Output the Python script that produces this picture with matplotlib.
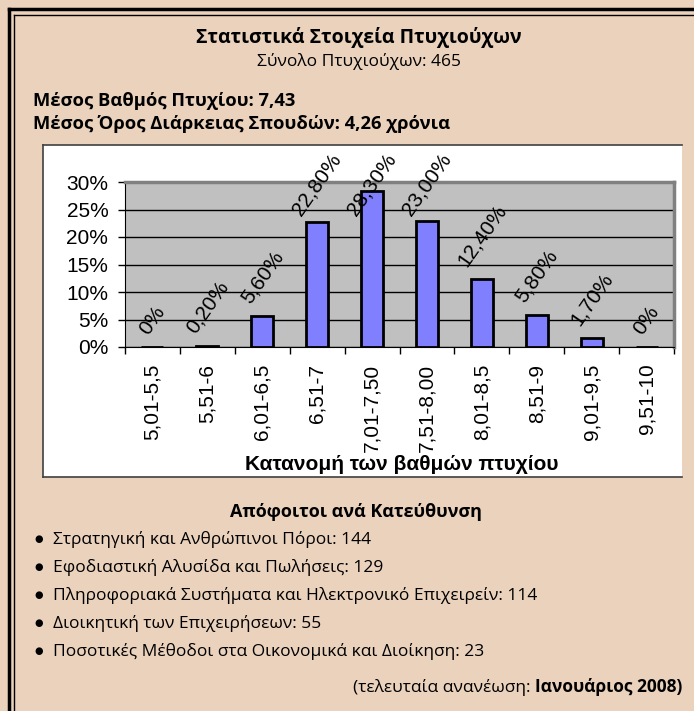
import numpy as np
import matplotlib.pyplot as plt
from matplotlib.patches import Rectangle
from matplotlib.lines import Line2D

W, H = 694, 711
DPI = 100

# στοιχεία
categories = ['5,01-5,5', '5,51-6', '6,01-6,5', '6,51-7', '7,01-7,50',
              '7,51-8,00', '8,01-8,5', '8,51-9', '9,01-9,5', '9,51-10']
percent = [0, 0.2, 5.6, 22.8, 28.3, 23.0, 12.4, 5.8, 1.7, 0]
y_ticks = [0, 5, 10, 15, 20, 25, 30]

directions = ['Στρατηγική και Ανθρώπινοι Πόροι',
              'Εφοδιαστική Αλυσίδα και Πωλήσεις',
              'Πληροφοριακά Συστήματα και Ηλεκτρονικό Επιχειρείν',
              'Διοικητική των Επιχειρήσεων',
              'Ποσοτικές Μέθοδοι στα Οικονομικά και Διοίκηση']
graduates = [144, 129, 114, 55, 23]

total_graduates = 465
mean_grade = '7,43'
mean_years = '4,26'

BEIGE = '#EAD2BC'
PAGE_FONT = ['Open Sans', 'DejaVu Sans']
CHART_FONT = ['Liberation Sans', 'DejaVu Sans']
PAGE_SIZE = 12.5


def fx(x):
    return x / W


def fy(y):
    return 1 - y / H


def fmt_pct(v):
    if v == 0:
        return '0%'
    return f'{v:.2f}'.replace('.', ',') + '%'


fig = plt.figure(figsize=(W / DPI, H / DPI), dpi=DPI)
fig.patch.set_facecolor(BEIGE)

# διπλό περίγραμμα (αριστερά και πάνω)
fig.add_artist(Line2D([fx(9), fx(9)], [fy(9), 0], color='black', lw=2.5))
fig.add_artist(Line2D([fx(9), 1], [fy(9), fy(9)], color='black', lw=2.5))
fig.add_artist(Line2D([fx(14), fx(14)], [fy(14.5), 0], color='black', lw=1))
fig.add_artist(Line2D([fx(14), 1], [fy(14.5), fy(14.5)], color='black', lw=1))

# κείμενα επικεφαλίδας
fig.text(fx(359), fy(38), 'Στατιστικά Στοιχεία Πτυχιούχων', ha='center',
         va='center', fontsize=14, fontweight='bold', family=PAGE_FONT)
fig.text(fx(359), fy(61), f'Σύνολο Πτυχιούχων: {total_graduates}',
         ha='center', va='center', fontsize=12.5, family=PAGE_FONT)
fig.text(fx(33), fy(101), f'Μέσος Βαθμός Πτυχίου: {mean_grade}',
         ha='left', va='center', fontsize=13.2, fontweight='bold',
         family=PAGE_FONT)
fig.text(fx(33), fy(124),
         f'Μέσος Όρος Διάρκειας Σπουδών: {mean_years} χρόνια',
         ha='left', va='center', fontsize=13.2, fontweight='bold',
         family=PAGE_FONT)

# λευκό πλαίσιο γραφήματος (κάτω από τους άξονες)
fig.add_artist(Rectangle((fx(43), fy(477)), fx(682) - fx(43),
                         fy(145) - fy(477), facecolor='white',
                         edgecolor='none', zorder=-2))
for xs, ys in [([43, 682], [145, 145]), ([43, 43], [145, 477]),
               ([43, 682], [477, 477])]:
    fig.add_artist(Line2D([fx(v) for v in xs], [fy(v) for v in ys],
                          color='#404040', lw=1.2, zorder=-1))

# γράφημα
ax = fig.add_axes([fx(125), fy(347), fx(674) - fx(125), fy(182) - fy(347)])
ax.set_zorder(2)
ax.set_facecolor('#C0C0C0')
x = np.arange(len(categories))
bars = ax.bar(x, percent, width=0.4, color='#8080FF', edgecolor='black',
              linewidth=2, zorder=3)
ax.set_xlim(-0.5, len(categories) - 0.5)
ax.set_ylim(0, 30)
ax.set_yticks(y_ticks)
ax.set_yticklabels([f'{v}%' for v in y_ticks], family=CHART_FONT,
                   fontsize=15)
ax.yaxis.grid(True, color='black', lw=1, zorder=1)
ax.tick_params(axis='y', direction='out', length=5, width=1, pad=7,
               colors='black')

# υποδιαιρέσεις στα όρια των κατηγοριών, ετικέτες στα κέντρα
ax.set_xticks(x)
ax.set_xticklabels(categories, rotation=90, family=CHART_FONT, fontsize=15)
ax.tick_params(axis='x', which='major', length=0, pad=12)
ax.set_xticks(np.arange(-0.5, len(categories)), minor=True)
ax.tick_params(axis='x', which='minor', direction='out', length=5, width=1)

for side in ['top', 'right']:
    ax.spines[side].set_color('#808080')
    ax.spines[side].set_linewidth(2.5)
ax.spines['left'].set_color('black')
ax.spines['bottom'].set_color('black')

fig.text(fx(402), fy(465), 'Κατανομή των βαθμών πτυχίου', ha='center',
         va='center', fontsize=15, fontweight='bold', family=CHART_FONT,
         zorder=3)

# ετικέτες τιμών, περιορισμένες μέσα στο πλαίσιο
fig.canvas.draw()
renderer = fig.canvas.get_renderer()
top_limit = H - 150
for xi, v in zip(x, percent):
    t = ax.annotate(fmt_pct(v), (xi, v), xytext=(0, 9),
                    textcoords='offset pixels', ha='center', va='bottom',
                    rotation=55, fontsize=15, family=CHART_FONT,
                    annotation_clip=False, zorder=4)
    bb = t.get_window_extent(renderer)
    if bb.y1 > top_limit:
        t.set_position((0, 9 - (bb.y1 - top_limit)))

# απόφοιτοι ανά κατεύθυνση
fig.text(fx(356), fy(512), 'Απόφοιτοι ανά Κατεύθυνση', ha='center',
         va='center', fontsize=13, fontweight='bold', family=PAGE_FONT)
for i, (name, n) in enumerate(zip(directions, graduates)):
    yy = 539 + i * 28
    fig.text(fx(39), fy(yy), '\u25CF', ha='center', va='center',
             fontsize=7, family=['DejaVu Sans'])
    fig.text(fx(53), fy(yy), f'{name}: {n}', ha='left', va='center',
             fontsize=PAGE_SIZE, family=PAGE_FONT)

# υποσημείωση με έντονο τμήμα
bold_part = fig.text(fx(682), fy(687), 'Ιανουάριος 2008)', ha='right',
                     va='center', fontsize=PAGE_SIZE, fontweight='bold',
                     family=PAGE_FONT)
bb = bold_part.get_window_extent(renderer)
fig.text(bb.x0 / W, fy(687), '(τελευταία ανανέωση: ', ha='right',
         va='center', fontsize=PAGE_SIZE, family=PAGE_FONT)

fig.savefig('out.png', dpi=DPI, facecolor=BEIGE)
